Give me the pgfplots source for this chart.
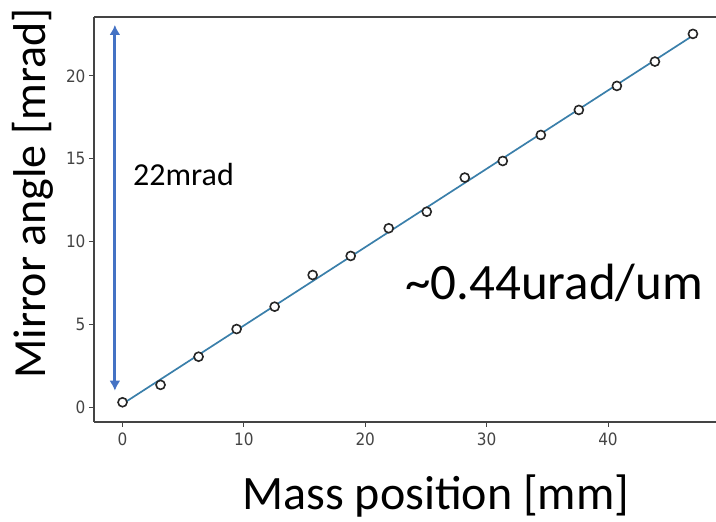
\documentclass[border=0pt]{standalone}
\usepackage{pgfplots}
\pgfplotsset{compat=1.18}
\usepackage{fontspec}
\setmainfont{Carlito}
\newfontfamily\tickfont{DejaVu Sans Condensed}
\usetikzlibrary{arrows.meta}
\definecolor{axgray}{HTML}{444444}
\definecolor{fitblue}{HTML}{3A7FAA}
\definecolor{arrowblue}{HTML}{4472C4}
\begin{document}
\begin{tikzpicture}[x=1pt,y=1pt]
\useasboundingbox (0,0) rectangle (716,522);
\begin{axis}[
  at={(94pt,100pt)}, anchor=south west,
  scale only axis, width=622pt, height=405pt,
  xmin=-2.35, xmax=48.9, ymin=-0.89, ymax=23.55,
  axis x line*=bottom, axis y line*=left,
  axis line style={axgray, line width=1.2pt},
  xtick={0,10,20,30,40}, ytick={0,5,10,15,20},
  tick align=outside, major tick length=5pt,
  tick style={axgray, line width=0.9pt},
  /pgf/number format/assume math mode=true,
  ticklabel style={font=\tickfont\fontsize{17}{17}\selectfont, text=axgray},
  xticklabel style={yshift=-2pt},
  clip=false,
]
\draw[axgray, line width=1.2pt] (rel axis cs:0,1) -- (rel axis cs:1,1);
\addplot[fitblue, line width=1.7pt, no marks] coordinates {(0,0.2) (47,22.43)};
\addplot[only marks, mark=*, mark size=4.5pt, mark options={draw=black!85, fill=white, line width=1.6pt}] coordinates {
(0,0.30) (3.133,1.35) (6.267,3.05) (9.4,4.72) (12.533,6.07) (15.667,7.98)
(18.8,9.13) (21.933,10.80) (25.067,11.80) (28.2,13.86) (31.333,14.86)
(34.467,16.43) (37.6,17.94) (40.733,19.39) (43.867,20.86) (47,22.53)};
\draw[arrowblue, line width=2.8pt, {Latex[length=10pt,width=11pt]}-{Latex[length=10pt,width=11pt]}] (axis cs:-0.63,1.0) -- (axis cs:-0.63,23.07);
\end{axis}
\node[anchor=base west, inner sep=0pt, font=\fontsize{32}{32}\selectfont] at (133,336) {22mrad};
\node[anchor=base west, inner sep=0pt, font=\fontsize{51}{51}\selectfont] at (405,222) {\textasciitilde0.44urad/um};
\node[anchor=base, inner sep=0pt, font=\fontsize{48}{48}\selectfont] at (436,12) {Mass position [mm]};
\node[anchor=base, rotate=90, inner sep=0pt, font=\fontsize{46}{46}\selectfont] at (45,328.5) {Mirror angle [mrad]};
\end{tikzpicture}
\end{document}
